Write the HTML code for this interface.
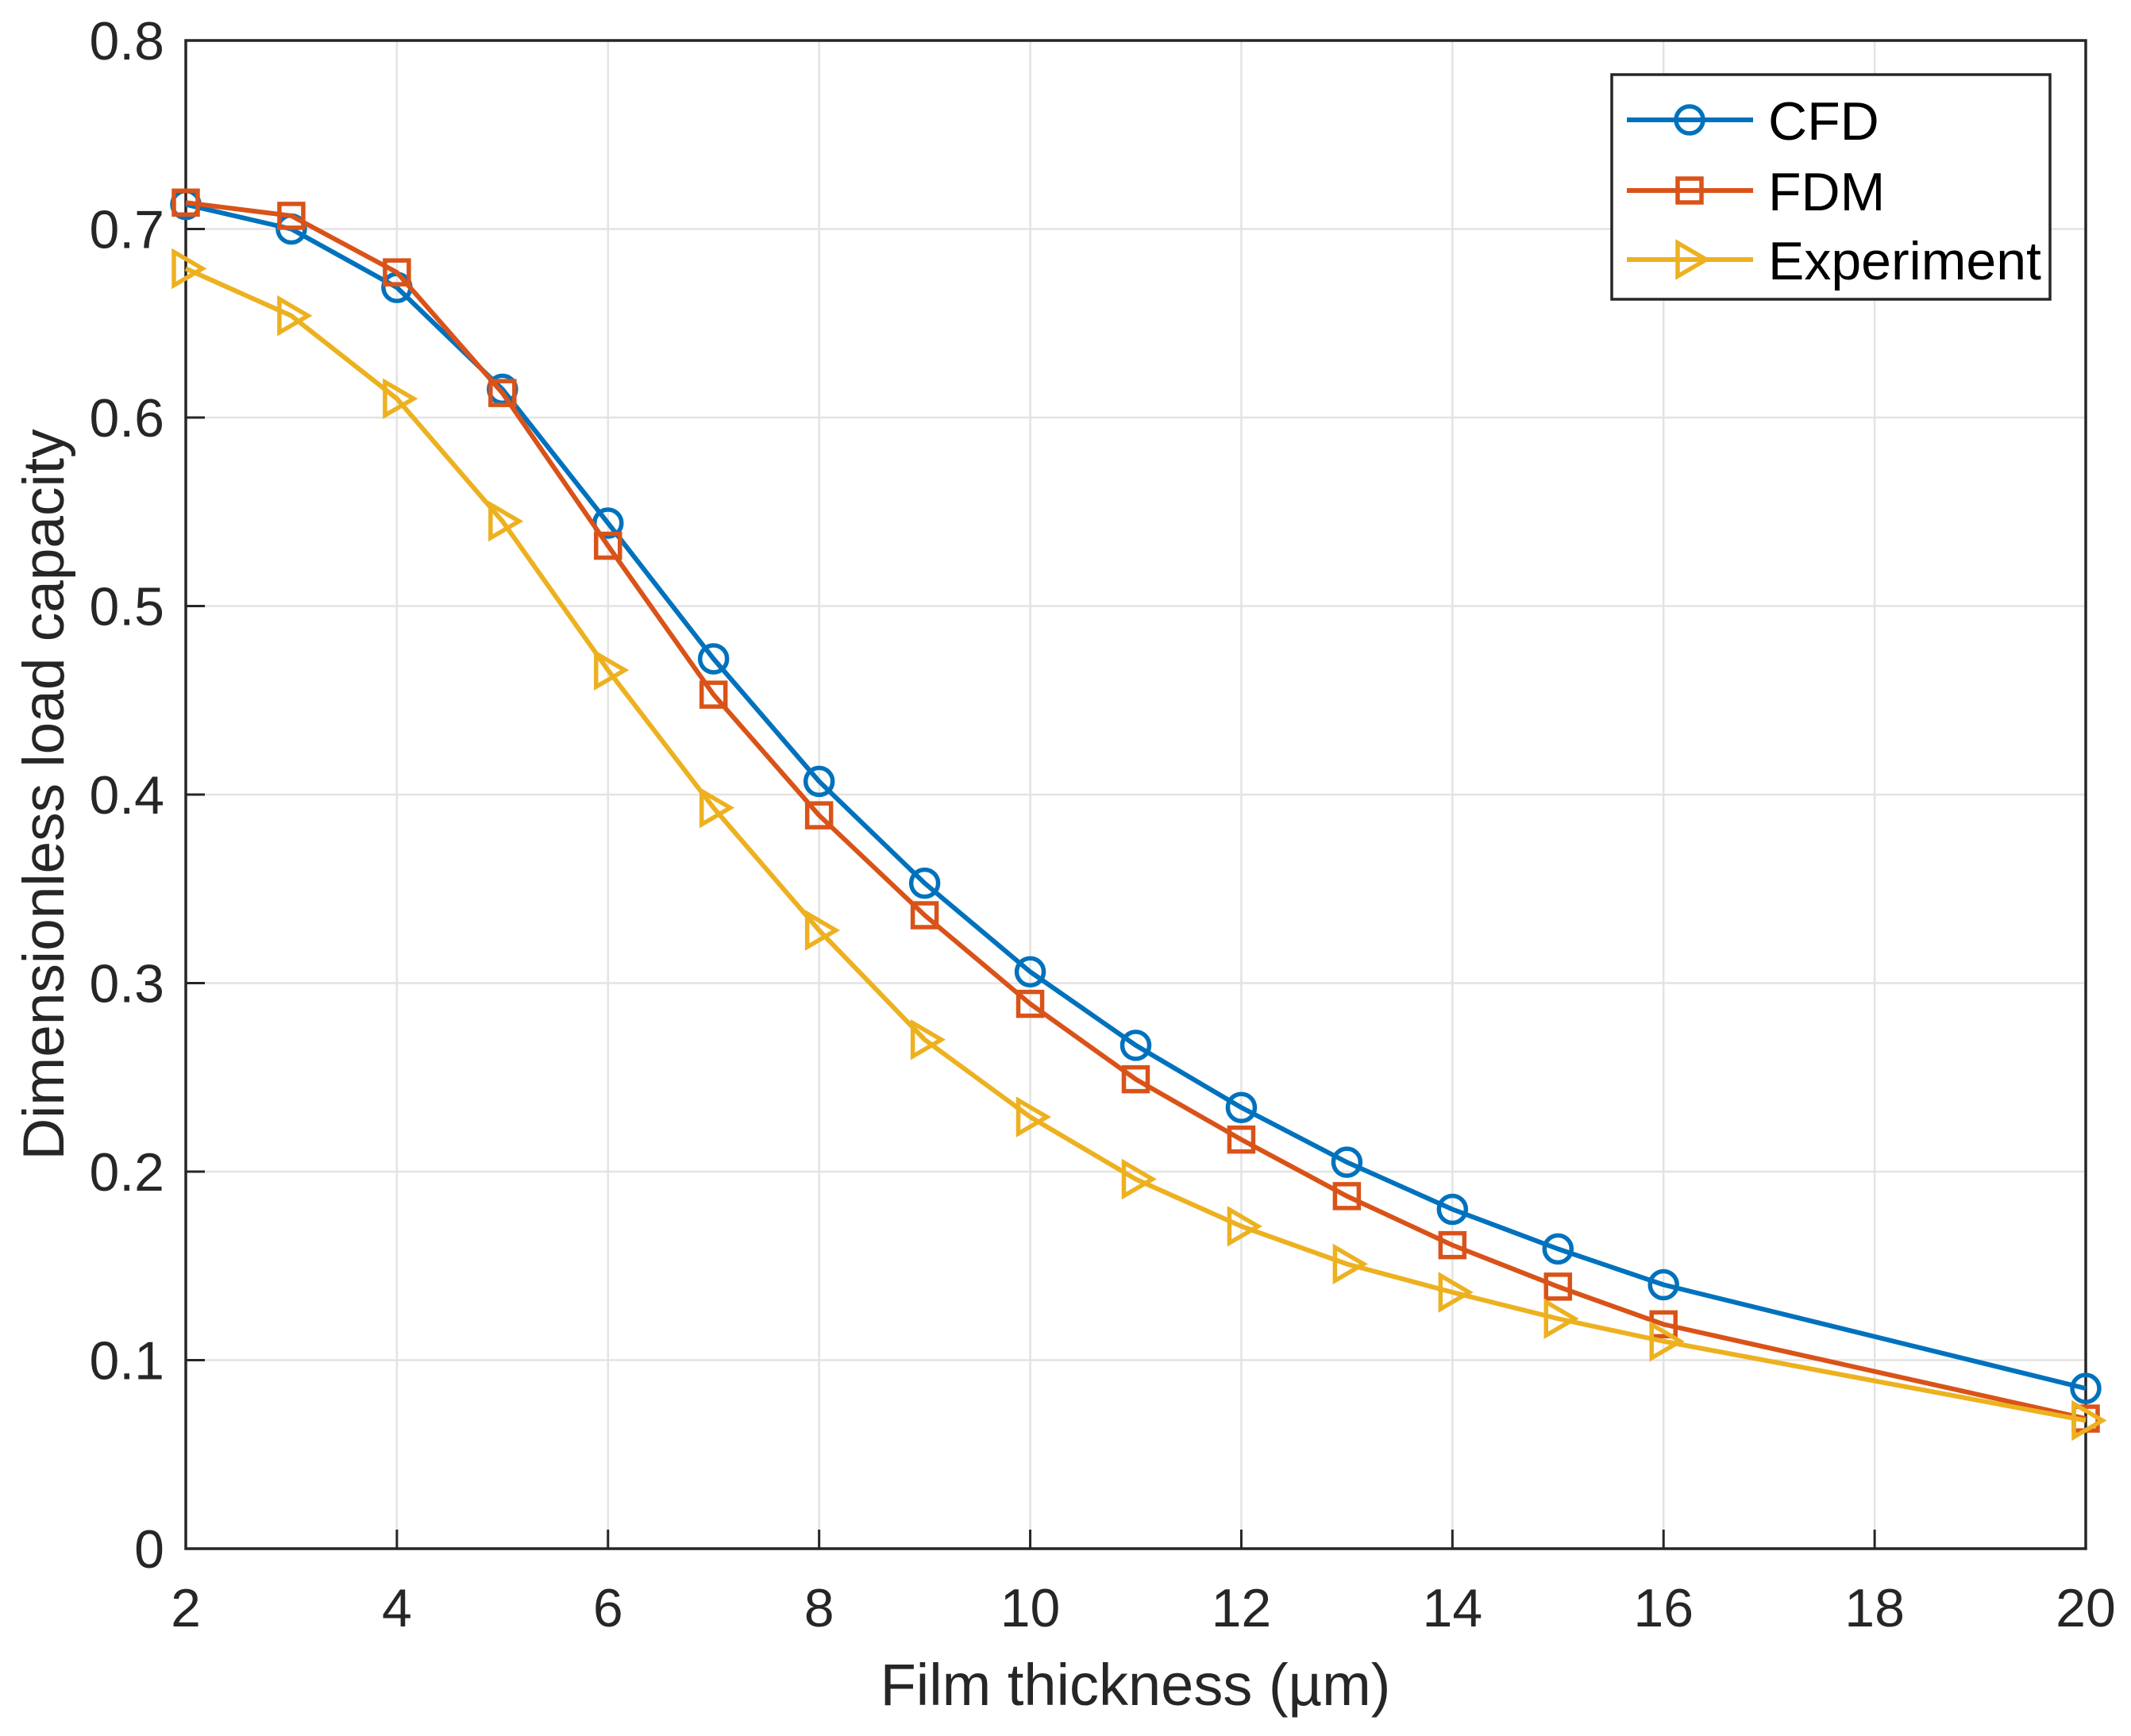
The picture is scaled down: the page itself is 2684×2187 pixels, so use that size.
<!DOCTYPE html>
<html><head><meta charset="utf-8"><style>
html,body{margin:0;padding:0;background:#fff;}
svg{display:block;font-family:"Liberation Sans",Arial,sans-serif;}
</style></head><body>
<svg id="chart" width="2684" height="2187" viewBox="0 0 2684 2187" xmlns="http://www.w3.org/2000/svg">
<rect width="2684" height="2187" fill="#fff"/>
<g id="grid"></g><g id="axes"></g><g id="series"></g><g id="legend"></g>
</svg>
<script>
const xs=[2,3,4,5,6,7,8,9,10,11,12,13,14,15,16,20];
const cfd=[0.713,0.700,0.669,0.615,0.544,0.472,0.407,0.353,0.306,0.267,0.234,0.205,0.180,0.159,0.140,0.085];
const fdm=[0.714,0.707,0.677,0.613,0.532,0.453,0.389,0.336,0.289,0.249,0.217,0.187,0.161,0.139,0.119,0.069];
const exp=[0.679,0.654,0.610,0.545,0.466,0.393,0.328,0.270,0.229,0.196,0.171,0.151,0.136,0.122,0.110,0.068];
const xTicks=[2,4,6,8,10,12,14,16,18,20];
const yTicks=[0,0.1,0.2,0.3,0.4,0.5,0.6,0.7,0.8];
const seriesNames=["CFD","FDM","Experiment"];

const L=234,R=2627,T=51,B=1951;
const sx=v=>L+(v-2)/(20-2)*(R-L);
const sy=v=>B-(v/0.8)*(B-T);
const NS="http://www.w3.org/2000/svg";
function mk(tag,attrs,parent){const e=document.createElementNS(NS,tag);for(const k in attrs)e.setAttribute(k,attrs[k]);parent.appendChild(e);return e;}
const grid=document.getElementById('grid'),axes=document.getElementById('axes'),ser=document.getElementById('series'),leg=document.getElementById('legend');

xTicks.forEach(t=>{
  const g=mk('line',{x1:sx(t),x2:sx(t),y1:T,y2:B,stroke:'#e3e3e3','stroke-width':2.5},grid);
  
  const tk=mk('line',{x1:sx(t),x2:sx(t),y1:B,y2:B-24,stroke:'#262626','stroke-width':3},axes);
  
  const tx=mk('text',{x:sx(t),y:2049,'text-anchor':'middle','font-size':68,fill:'#262626'},axes);
  tx.textContent=t;
  
});
yTicks.forEach(t=>{
  const g=mk('line',{x1:L,x2:R,y1:sy(t),y2:sy(t),stroke:'#e3e3e3','stroke-width':2.5},grid);
  
  const tk=mk('line',{x1:L,x2:L+24,y1:sy(t),y2:sy(t),stroke:'#262626','stroke-width':3},axes);
  
  const tx=mk('text',{x:207,y:sy(t)+24,'text-anchor':'end','font-size':68,fill:'#262626'},axes);
  tx.textContent=t===0?'0':t.toFixed(1);
  
});
const box=mk('rect',{x:L,y:T,width:R-L,height:B-T,fill:'none',stroke:'#262626','stroke-width':3.5},axes);

const xl=mk('text',{x:1430,y:2148,'text-anchor':'middle','font-size':74,fill:'#262626'},axes);
xl.textContent='Film thickness (µm)';

const yl=mk('text',{x:0,y:0,transform:'translate(80,1001) rotate(-90)','text-anchor':'middle','font-size':73,fill:'#262626'},axes);
yl.textContent='Dimensionless load capacity';


const colors=['#0072BD','#D95319','#EDB120'];
function marker(kind,x,y,c,parent){
  let e;
  if(kind===0)e=mk('circle',{cx:x,cy:y,r:17,fill:'none',stroke:c,'stroke-width':5.5},parent);
  else if(kind===1)e=mk('rect',{x:x-15,y:y-15,width:30,height:30,fill:'none',stroke:c,'stroke-width':5.5},parent);
  else e=mk('polygon',{points:`${x-15},${y-21} ${x+21},${y} ${x-15},${y+21}`,fill:'none',stroke:c,'stroke-width':5.5},parent);
  return e;
}
[cfd,fdm,exp].forEach((vals,i)=>{
  const g=mk('g',{},ser);
  
  
  const pl=mk('polyline',{points:xs.map((x,j)=>sx(x)+','+sy(vals[j])).join(' '),fill:'none',stroke:colors[i],'stroke-width':6,'stroke-linejoin':'round'},g);
  
  
  xs.forEach((x,j)=>{
    const m=marker(i,sx(x),sy(vals[j]),colors[i],g);
    
    
  });
});

const lb=mk('rect',{x:2030,y:94,width:552,height:283,fill:'#fff',stroke:'#262626','stroke-width':3.5},leg);

[151,240,327].forEach((y,i)=>{
  const g=mk('g',{},leg);
  
  
  mk('line',{x1:2049,x2:2208,y1:y,y2:y,stroke:colors[i],'stroke-width':6},g);
  marker(i,2128,y,colors[i],g);
  const t=mk('text',{x:2227,y:y+25,'font-size':68,fill:'#000'},g);
  t.textContent=seriesNames[i];
  
});
</script>
</body></html>
